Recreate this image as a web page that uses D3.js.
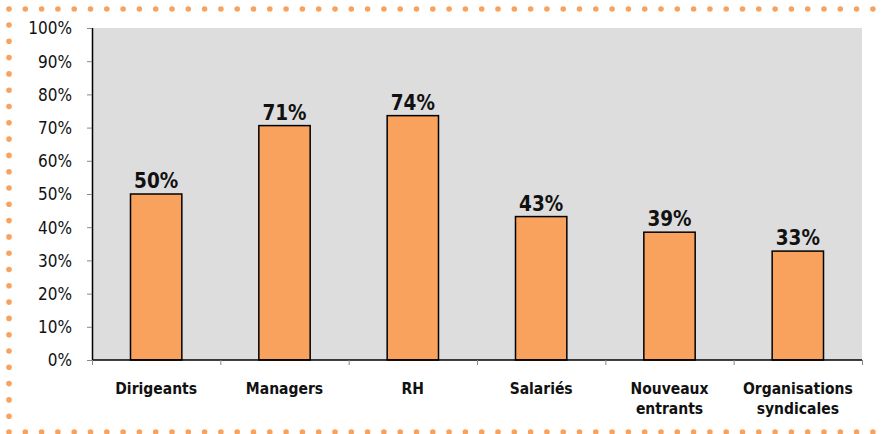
<!DOCTYPE html>
<html>
<head>
<meta charset="utf-8">
<script src="https://cdn.jsdelivr.net/npm/d3@7"></script>
<style>
  body { margin: 0; background: #fff; }
  svg { display: block; }
  .tick text { font-family: "Liberation Sans Narrow", "DejaVu Sans Condensed", sans-serif; }
</style>
</head>
<body>
<svg id="svg" width="886" height="434"></svg>
<script>
// data
const categories = ["Dirigeants", "Managers", "RH", "Salariés", "Nouveaux entrants", "Organisations syndicales"];
const values = [50, 70.6, 73.6, 43.2, 38.5, 32.8];
const yTicks = [0, 10, 20, 30, 40, 50, 60, 70, 80, 90, 100];

const svg = d3.select("#svg");
const width = +svg.attr("width"), height = +svg.attr("height");
const margin = { top: 28, right: 24, bottom: 74, left: 92 };
const orange = "#f9a25e";

// dotted frame (top, left, bottom)
const dots = [];
for (let x = 9; x <= 876; x += 16.3) { dots.push([x, 9]); dots.push([x, 432]); }
for (let y = 25; y < 432; y += 16.3) dots.push([9, y]);
svg.append("g").selectAll("circle").data(dots).enter().append("circle")
    .attr("cx", d => d[0]).attr("cy", d => d[1]).attr("r", 2.8)
    .attr("fill", orange);

const x = d3.scaleBand().domain(categories)
    .range([margin.left, width - margin.right]).paddingInner(0.6).paddingOuter(0.3);
const y = d3.scaleLinear().domain([0, 100]).range([height - margin.bottom, margin.top]);

// grey plot background
svg.append("rect")
    .attr("x", margin.left).attr("y", margin.top)
    .attr("width", width - margin.right - margin.left)
    .attr("height", y(0) - margin.top)
    .attr("fill", "#dddddd");

// bars
svg.append("g").selectAll("rect").data(values).enter().append("rect")
    .attr("x", (d, i) => x(categories[i]))
    .attr("y", d => y(d))
    .attr("width", x.bandwidth())
    .attr("height", d => y(0) - y(d))
    .attr("fill", orange)
    .attr("stroke", "#000").attr("stroke-width", 1.5);

// value labels
svg.append("g").selectAll("text").data(values).enter().append("text")
    .attr("x", (d, i) => x(categories[i]) + x.bandwidth() / 2)
    .attr("y", d => y(d) - 6)
    .attr("text-anchor", "middle")
    .attr("font-family", "'DejaVu Sans Condensed', sans-serif")
    .attr("font-weight", "bold").attr("font-size", 20.5)
    .attr("fill", "#111")
    .text(d => Math.round(d) + "%");

// y axis
const yAxis = svg.append("g").attr("transform", "translate(" + margin.left + ",0)")
    .call(d3.axisLeft(y).tickValues(yTicks).tickSize(5).tickPadding(15).tickFormat(d => d + "%"));
yAxis.select(".domain").attr("stroke", "#000").attr("stroke-width", 1.5).attr("d", "M0.5," + y(0) + "V" + margin.top);
yAxis.selectAll(".tick line").attr("stroke", "#888");
yAxis.selectAll(".tick text").attr("font-size", 17).attr("fill", "#111").attr("dy", "0.35em");

// x axis: line plus boundary ticks
const plotW = width - margin.right - margin.left;
const step = plotW / categories.length;
const xa = svg.append("g");
xa.append("line").attr("x1", margin.left).attr("x2", width - margin.right)
    .attr("y1", y(0)).attr("y2", y(0)).attr("stroke", "#000").attr("stroke-width", 1.5);
xa.selectAll(".bt").data(d3.range(categories.length + 1)).enter().append("line")
    .attr("x1", i => margin.left + i * step + 0.5).attr("x2", i => margin.left + i * step + 0.5)
    .attr("y1", y(0)).attr("y2", y(0) + 5).attr("stroke", "#888");

// category labels (wrapped)
const catLines = c => c === "Nouveaux entrants" ? ["Nouveaux", "entrants"]
    : c === "Organisations syndicales" ? ["Organisations", "syndicales"] : [c];
const lab = svg.append("g").selectAll("text").data(categories).enter().append("text")
    .attr("x", c => x(c) + x.bandwidth() / 2)
    .attr("y", y(0) + 34)
    .attr("text-anchor", "middle")
    .attr("font-family", "'DejaVu Sans Condensed', sans-serif")
    .attr("font-weight", "bold").attr("font-size", 15.5)
    .attr("fill", "#111");
lab.each(function (c) {
    const t = d3.select(this);
    catLines(c).forEach((l, i) => {
        t.append("tspan").attr("x", t.attr("x")).attr("dy", i ? 20 : 0).text(l);
    });
});
</script>
</body>
</html>
